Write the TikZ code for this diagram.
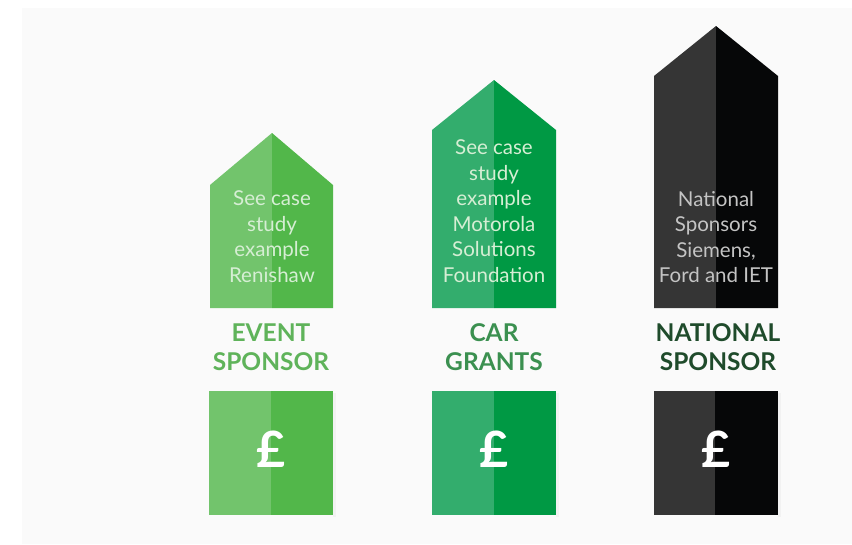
\documentclass[tikz,border=0pt]{standalone}
\usepackage{fontspec}
\setmainfont{Lato}
\definecolor{evL}{HTML}{72C46C}
\definecolor{evR}{HTML}{52B74A}
\definecolor{evT}{HTML}{5FB35A}
\definecolor{caL}{HTML}{33AD6D}
\definecolor{caR}{HTML}{009944}
\definecolor{caT}{HTML}{3B9050}
\definecolor{naL}{HTML}{353535}
\definecolor{naR}{HTML}{060708}
\definecolor{naT}{HTML}{1F4B2B}
\definecolor{bg}{HTML}{FAFAFA}
\definecolor{inG}{HTML}{D6EED4}
\definecolor{inK}{HTML}{C4C4C4}
\tikzset{
  innertext/.style={align=center, font=\fontsize{20.5}{25.5}\selectfont, inner sep=0pt},
  label/.style={align=center, font=\bfseries\fontsize{24.5}{29}\selectfont, inner sep=0pt},
  pound/.style={text=white, font=\bfseries\fontsize{50}{50}\selectfont, inner sep=0pt},
}
\begin{document}
\begin{tikzpicture}[x=1pt,y=-1pt]
\useasboundingbox (0,0) rectangle (852,544);
\fill[white] (0,0) rectangle (852,544);
\fill[bg] (22,8) rectangle (852,544);
% shadows
\foreach \a/\b in {209/333,432/556,654/778}{
  \fill[black!5] (\b,393) rectangle (\b+3,517);
}
% Event
\fill[evL] (210,308) -- (210,185) -- (272,133) -- (272,308) -- cycle;
\fill[evR] (272,133) -- (333,185) -- (333,308) -- (272,308) -- cycle;
\node[innertext, text=inG] (evtext) at (272,236.5) {See case\\study\\example\\Renishaw};
\node[label, text=evT] (evlabel) at (271,347.5) {EVENT\\SPONSOR};
\fill[evL] (209,391) rectangle (271,515);
\fill[evR] (271,391) rectangle (333,515);
\node[pound] (evpound) at (271,449) {£};
% Car
\fill[caL] (432,308) -- (432,130) -- (494,80) -- (494,308) -- cycle;
\fill[caR] (494,80) -- (556,130) -- (556,308) -- (494,308) -- cycle;
\node[innertext, text=inG] (catext) at (494,211) {See case\\study\\example\\Motorola\\Solutions\\Foundation};
\node[label, text=caT] (calabel) at (494,347.5) {CAR\\GRANTS};
\fill[caL] (432,391) rectangle (494,515);
\fill[caR] (494,391) rectangle (556,515);
\node[pound] (capound) at (494,449) {£};
% National
\fill[naL] (654,308) -- (654,76) -- (716,26) -- (716,308) -- cycle;
\fill[naR] (716,26) -- (778,76) -- (778,308) -- (716,308) -- cycle;
\node[innertext, text=inK] (natext) at (716,237) {National\\Sponsors\\Siemens,\\Ford and IET};
\node[label, text=naT] (nalabel) at (718,347.5) {NATIONAL\\SPONSOR};
\fill[naL] (654,391) rectangle (715,515);
\fill[naR] (715,391) rectangle (778,515);
\node[pound] (napound) at (716,449) {£};
\end{tikzpicture}
\end{document}
